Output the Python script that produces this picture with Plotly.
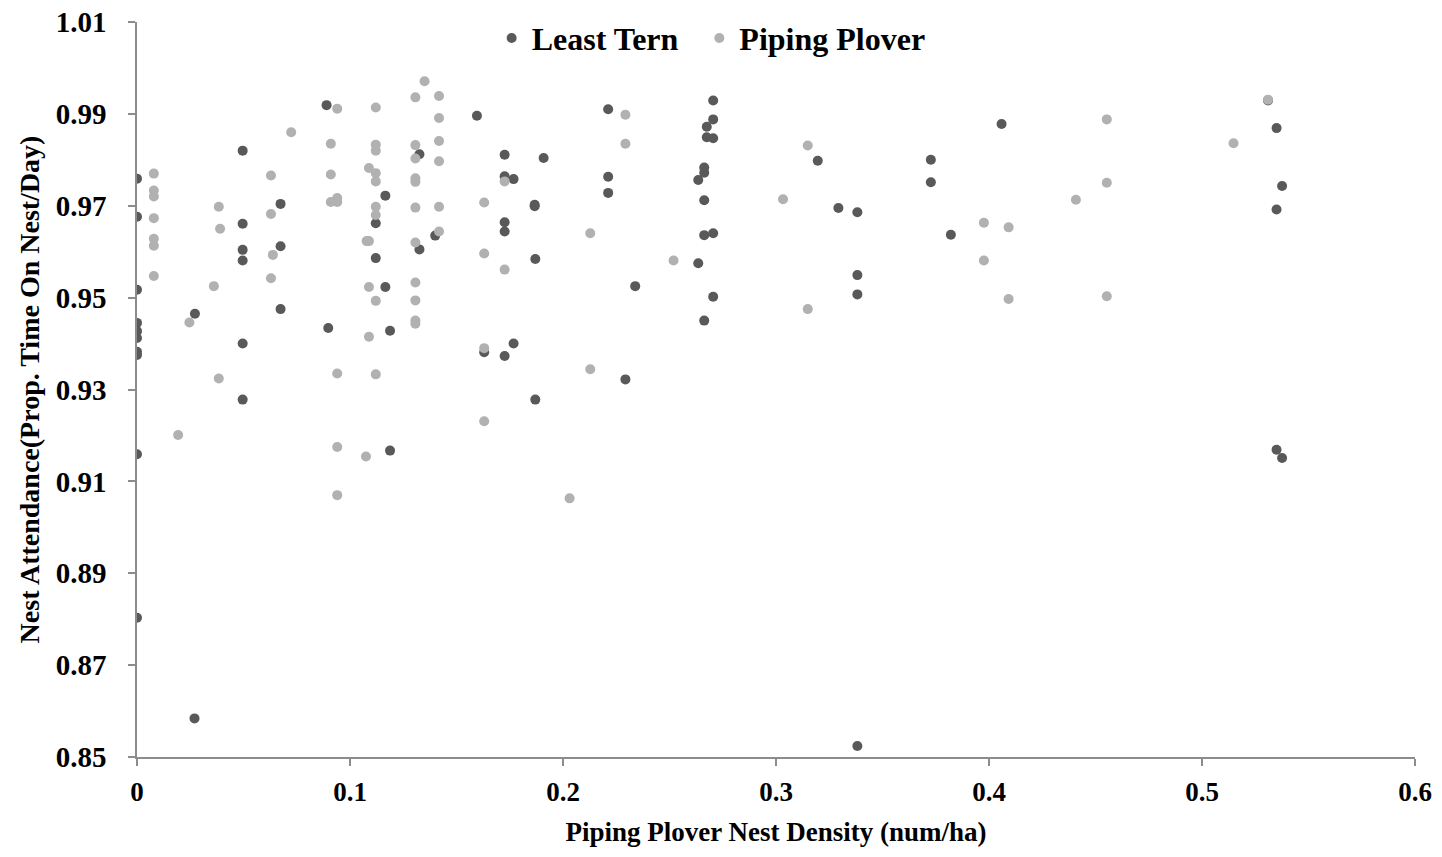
import plotly.graph_objects as go

# Least Tern (dark) points: x = Piping Plover nest density, y = nest attendance
tern_x = [0, 0, 0, 0, 0, 0, 0, 0, 0, 0,
          0.0272, 0.027,
          0.0496, 0.0496, 0.0496, 0.0496, 0.0496, 0.0496,
          0.0674, 0.0674, 0.0674,
          0.089, 0.0898,
          0.1121, 0.1121, 0.1166, 0.1166, 0.1188, 0.1188,
          0.1326, 0.1326, 0.14, 0.1596, 0.163,
          0.1726, 0.1726, 0.1726, 0.1726, 0.1726,
          0.1768, 0.1768, 0.1867, 0.1867, 0.187, 0.187, 0.1909,
          0.2212, 0.2212, 0.2212, 0.2293, 0.2339,
          0.2635, 0.2635,
          0.2663, 0.2663, 0.2663, 0.2663, 0.2663,
          0.2675, 0.2675,
          0.2705, 0.2705, 0.2705, 0.2705, 0.2705,
          0.3196, 0.3293, 0.3382, 0.3382, 0.3382, 0.3382,
          0.3727, 0.3727, 0.3821, 0.4059,
          0.531, 0.535, 0.535, 0.535, 0.5376, 0.5376]
tern_y = [0.9759, 0.9676, 0.9517, 0.9445, 0.9427, 0.9412, 0.9382, 0.9375, 0.9159, 0.8803,
          0.9465, 0.8584,
          0.982, 0.9661, 0.9604, 0.9581, 0.94, 0.9278,
          0.9704, 0.9612, 0.9475,
          0.9919, 0.9434,
          0.9662, 0.9586, 0.9722, 0.9523, 0.9428, 0.9167,
          0.9812, 0.9605, 0.9635, 0.9896, 0.9381,
          0.9811, 0.9764, 0.9664, 0.9644, 0.9373,
          0.9758, 0.94, 0.9702, 0.9699, 0.9584, 0.9278, 0.9804,
          0.991, 0.9763, 0.9728, 0.9322, 0.9525,
          0.9756, 0.9575,
          0.9783, 0.9772, 0.9712, 0.9636, 0.945,
          0.9872, 0.9849,
          0.9929, 0.9888, 0.9847, 0.964, 0.9502,
          0.9798, 0.9695, 0.9686, 0.9549, 0.9507, 0.8524,
          0.98, 0.9751, 0.9637, 0.9878,
          0.9929, 0.9869, 0.9692, 0.9169, 0.9743, 0.9151]

# Piping Plover (light) points
plover_x = [0.0079, 0.0079, 0.0079, 0.0079, 0.0079, 0.0079, 0.0079,
            0.0193, 0.0246, 0.0361, 0.0384, 0.0384, 0.039,
            0.0629, 0.0629, 0.0629, 0.0638, 0.0724,
            0.091, 0.091, 0.091,
            0.094, 0.094, 0.094, 0.094, 0.094, 0.094,
            0.1075, 0.1078,
            0.1089, 0.1089, 0.1089, 0.1089,
            0.1121, 0.1121, 0.1121, 0.1121, 0.1121, 0.1121, 0.1121, 0.1121, 0.1121,
            0.1307, 0.1307, 0.1307, 0.1307, 0.1307, 0.1307, 0.1307, 0.1307, 0.1307, 0.1307, 0.1307,
            0.135,
            0.1418, 0.1418, 0.1418, 0.1418, 0.1418, 0.1418,
            0.163, 0.163, 0.163, 0.163,
            0.1726, 0.1726, 0.2031, 0.2128, 0.2128, 0.2293, 0.2293, 0.2519,
            0.3033, 0.3149, 0.3149, 0.3976, 0.3976, 0.4092, 0.4092, 0.4408,
            0.4553, 0.4553, 0.4553, 0.5148, 0.531]
plover_y = [0.977, 0.9733, 0.972, 0.9673, 0.9628, 0.9613, 0.9547,
            0.9201, 0.9446, 0.9525, 0.9698, 0.9324, 0.965,
            0.9766, 0.9682, 0.9542, 0.9593, 0.986,
            0.9835, 0.9768, 0.9708,
            0.9911, 0.9717, 0.9708, 0.9335, 0.9175, 0.907,
            0.9154, 0.9623,
            0.9782, 0.9623, 0.9523, 0.9415,
            0.9914, 0.9833, 0.982, 0.9771, 0.9753, 0.9698, 0.968, 0.9493, 0.9333,
            0.9936, 0.9832, 0.9803, 0.976, 0.9752, 0.9696, 0.962, 0.9533, 0.9494, 0.945, 0.9443,
            0.9971,
            0.9939, 0.9891, 0.9841, 0.9797, 0.9698, 0.9644,
            0.9707, 0.9596, 0.939, 0.9231,
            0.9753, 0.9561, 0.9063, 0.964, 0.9344, 0.9898, 0.9835, 0.9581,
            0.9714, 0.9831, 0.9475, 0.9663, 0.9581, 0.9653, 0.9497, 0.9713,
            0.9888, 0.975, 0.9503, 0.9836, 0.9931]

series_names = ["Least Tern", "Piping Plover"]
x_ticks = [0, 0.1, 0.2, 0.3, 0.4, 0.5, 0.6]
y_ticks = [0.85, 0.87, 0.89, 0.91, 0.93, 0.95, 0.97, 0.99, 1.01]

FONT = "Liberation Serif"
AXIS_COLOR = "#8c8c8c"

fig = go.Figure()
fig.add_trace(go.Scatter(x=tern_x, y=tern_y, mode="markers",
                         name="<b>%s</b>\u00a0\u00a0" % series_names[0],
                         marker=dict(size=10, color="#595959")))
fig.add_trace(go.Scatter(x=plover_x, y=plover_y, mode="markers",
                         name="<b>%s</b>" % series_names[1],
                         marker=dict(size=10, color="#b1b1b1")))

fig.update_layout(
    width=1442, height=857,
    margin=dict(l=137, r=27, t=22, b=100, autoexpand=False),
    plot_bgcolor="white", paper_bgcolor="white",
    font=dict(family=FONT, color="black"),
    showlegend=True,
    legend=dict(orientation="h", x=0.2775, xanchor="left", y=0.978, yanchor="middle",
                font=dict(family=FONT, size=32, color="black"),
                bgcolor="rgba(0,0,0,0)"),
    xaxis=dict(range=[0, 0.6], tickvals=x_ticks, automargin=False,
               ticktext=[("<b>%g</b>" % v) for v in x_ticks],
               showgrid=False, zeroline=False, showline=True, linecolor=AXIS_COLOR, linewidth=1.5,
               ticks="outside", ticklen=7, tickcolor=AXIS_COLOR, tickwidth=1.5,
               ticklabelstandoff=3,
               tickfont=dict(family=FONT, size=27, color="black"),
               title=dict(text="<b>Piping Plover Nest Density (num/ha)</b>",
                          font=dict(family=FONT, size=27, color="black"), standoff=16)),
    yaxis=dict(range=[0.85, 1.01], tickvals=y_ticks, automargin=False,
               ticktext=[("<b>%.2f</b>" % v) for v in y_ticks],
               showgrid=False, zeroline=False, showline=True, linecolor=AXIS_COLOR, linewidth=1.5,
               ticks="outside", ticklen=7, tickcolor=AXIS_COLOR, tickwidth=1.5,
               ticklabelstandoff=16,
               tickfont=dict(family=FONT, size=29, color="black"),
               title=dict(text="<b>Nest Attendance(Prop. Time On Nest/Day)</b>",
                          font=dict(family=FONT, size=28, color="black"), standoff=8)),
)

fig.write_html("out.html")
